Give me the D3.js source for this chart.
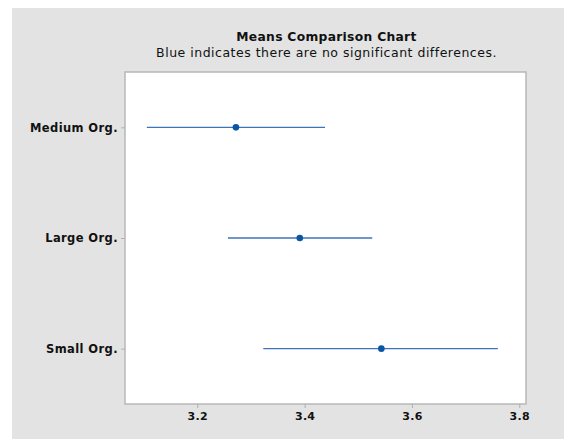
<!DOCTYPE html>
<html>
<head>
<meta charset="utf-8">
<script src="https://cdn.jsdelivr.net/npm/d3@7"></script>
<style>
  html, body { margin: 0; padding: 0; background: #ffffff; }
  svg { display: block; }
</style>
</head>
<body>
<svg id="chart" width="564" height="439"></svg>
<script>
// Group means with confidence intervals
const groups = ["Medium Org.", "Large Org.", "Small Org."];
const means = [3.272, 3.391, 3.543];
const lower = [3.106, 3.257, 3.323];
const upper = [3.438, 3.526, 3.760];
const xTicks = [3.2, 3.4, 3.6, 3.8];

const svg = d3.select("#chart");
const W = 564, H = 439;
const font = "'DejaVu Sans', 'Noto Sans', sans-serif";

// panel background
svg.append("rect").attr("x", 12).attr("y", 8).attr("width", W - 12).attr("height", H - 8)
  .attr("fill", "#e3e3e3");

const plot = { left: 125, top: 72, right: 526, bottom: 404 };

const x = d3.scaleLinear().domain([3.0653, 3.8125]).range([plot.left, plot.right]);
const y = d3.scalePoint().domain(groups).range([plot.top, plot.bottom]).padding(0.5);

// plot area
svg.append("rect")
  .attr("x", plot.left).attr("y", plot.top)
  .attr("width", plot.right - plot.left).attr("height", plot.bottom - plot.top)
  .attr("fill", "#ffffff").attr("stroke", "#b8b8b8").attr("stroke-width", 1.5);

// titles
const cx = (plot.left + plot.right) / 2 + 1;
svg.append("text").attr("x", cx).attr("y", 41).attr("text-anchor", "middle")
  .attr("font-family", font).attr("font-weight", "bold").attr("font-size", 12.3)
  .attr("letter-spacing", 0.3)
  .attr("fill", "#111").text("Means Comparison Chart");
svg.append("text").attr("x", cx).attr("y", 57).attr("text-anchor", "middle")
  .attr("font-family", font).attr("font-size", 12.5).attr("letter-spacing", 0.5)
  .attr("fill", "#111").text("Blue indicates there are no significant differences.");

// x axis
const xAxis = svg.append("g").attr("transform", `translate(0,${plot.bottom})`)
  .call(d3.axisBottom(x).tickValues(xTicks).tickFormat(d3.format(".1f")).tickSize(4).tickPadding(4));
xAxis.select(".domain").remove();
xAxis.selectAll("line").attr("stroke", "#b0b0b0");
xAxis.selectAll("text").attr("font-family", font).attr("font-weight", "bold")
  .attr("font-size", 11).attr("letter-spacing", 0.3).attr("fill", "#111");

// y axis
const yAxis = svg.append("g").attr("transform", `translate(${plot.left},0)`)
  .call(d3.axisLeft(y).tickSize(4).tickPadding(3));
yAxis.select(".domain").remove();
yAxis.selectAll("line").attr("stroke", "#b0b0b0");
yAxis.selectAll("text").attr("font-family", font).attr("font-weight", "bold")
  .attr("font-size", 11.5).attr("letter-spacing", 0.4).attr("fill", "#111");

// intervals
const rows = groups.map((g, i) => ({ g, m: means[i], lo: lower[i], hi: upper[i] }));
svg.append("g").selectAll("line").data(rows).join("line")
  .attr("x1", d => x(d.lo)).attr("x2", d => x(d.hi))
  .attr("y1", d => y(d.g)).attr("y2", d => y(d.g))
  .attr("stroke", "#3d74b6").attr("stroke-width", 1.3);

// means
svg.append("g").selectAll("circle").data(rows).join("circle")
  .attr("cx", d => x(d.m)).attr("cy", d => y(d.g)).attr("r", 3.3)
  .attr("fill", "#0b55a6");
</script>
</body>
</html>
